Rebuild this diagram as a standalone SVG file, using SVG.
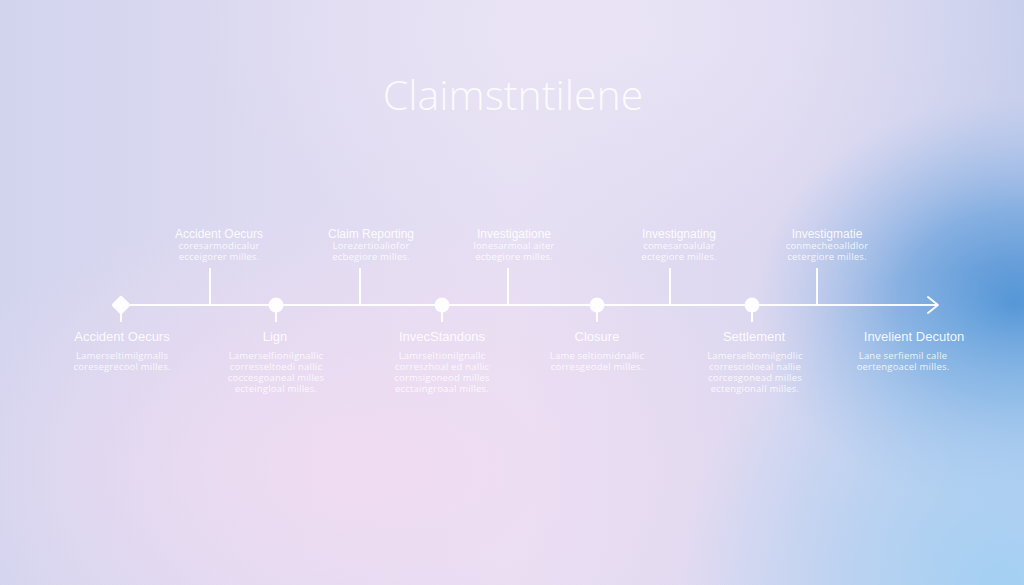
<svg xmlns="http://www.w3.org/2000/svg" width="1024" height="585" viewBox="0 0 1024 585">
  <defs>
    <linearGradient id="bg" x1="0" y1="0" x2="1" y2="0">
      <stop offset="0" stop-color="#d2d4ee"/>
      <stop offset="0.5" stop-color="#e6dff3"/>
      <stop offset="0.75" stop-color="#dcd8f0"/>
      <stop offset="1" stop-color="#c8cfec"/>
    </linearGradient>
    <radialGradient id="pink" cx="0.35" cy="0.8" r="0.45">
      <stop offset="0" stop-color="#f2dcf2" stop-opacity="0.9"/>
      <stop offset="1" stop-color="#f2dcf2" stop-opacity="0"/>
    </radialGradient>
    <radialGradient id="blue" gradientUnits="userSpaceOnUse" cx="1015" cy="305" r="260" gradientTransform="translate(1015 305) scale(1 0.8) translate(-1015 -305)">
      <stop offset="0" stop-color="#4a8fd3" stop-opacity="1"/>
      <stop offset="0.45" stop-color="#6ea4dd" stop-opacity="0.75"/>
      <stop offset="1" stop-color="#9dbde9" stop-opacity="0"/>
    </radialGradient>
    <radialGradient id="lightblue" gradientUnits="userSpaceOnUse" cx="1000" cy="585" r="320">
      <stop offset="0" stop-color="#a4d0f3" stop-opacity="1"/>
      <stop offset="1" stop-color="#a4d0f3" stop-opacity="0"/>
    </radialGradient>
    <radialGradient id="topwhite" cx="0.6" cy="0.05" r="0.4">
      <stop offset="0" stop-color="#ebe5f6" stop-opacity="0.8"/>
      <stop offset="1" stop-color="#ebe5f6" stop-opacity="0"/>
    </radialGradient>
    <style>
      .t { font-family: "Liberation Sans", Arial, sans-serif; fill: #ffffff; text-anchor: middle; }
      .h { font-size: 13px; fill-opacity: 0.92; }
      .b { font-family: "Open Sans", "Liberation Sans", sans-serif; font-size: 9.5px; letter-spacing: 0.2px; fill-opacity: 0.85; }
      .ln { stroke: #ffffff; stroke-width: 2; fill: none; stroke-opacity: 0.95; }
      .dot { fill: #ffffff; fill-opacity: 0.95; }
    </style>
  </defs>
  <rect width="1024" height="585" fill="url(#bg)"/>
  <rect width="1024" height="585" fill="url(#topwhite)"/>
  <rect width="1024" height="585" fill="url(#pink)"/>
  <rect width="1024" height="585" fill="url(#blue)"/>
  <rect width="1024" height="585" fill="url(#lightblue)"/>

  <text class="t" x="513" y="110" font-size="41" fill-opacity="0.85" style="font-family:'Open Sans','Liberation Sans',sans-serif;font-weight:300">Claimstntilene</text>

  <g id="connectors">
    <line class="ln" x1="120" y1="305" x2="938" y2="305"/>
    <polyline class="ln" points="928,297 938,305 928,313" stroke-width="3" stroke-linecap="round" stroke-linejoin="round"/>
    <line class="ln" x1="210" y1="268" x2="210" y2="305"/>
    <line class="ln" x1="360" y1="268" x2="360" y2="305"/>
    <line class="ln" x1="508" y1="268" x2="508" y2="305"/>
    <line class="ln" x1="670" y1="268" x2="670" y2="305"/>
    <line class="ln" x1="817" y1="268" x2="817" y2="305"/>
    <line class="ln" x1="121" y1="305" x2="121" y2="322"/>
    <line class="ln" x1="276" y1="305" x2="276" y2="322"/>
    <line class="ln" x1="442" y1="305" x2="442" y2="322"/>
    <line class="ln" x1="597" y1="305" x2="597" y2="322"/>
    <line class="ln" x1="752" y1="305" x2="752" y2="322"/>
  </g>

  <g id="node-start">
    <rect class="dot" x="114" y="298" width="14" height="14" transform="rotate(45 121 305)" rx="2"/>
    <text class="t h" x="122" y="341">Accident Oecurs</text>
    <text class="t b" x="122" y="359">Lamerseltimilgmalls</text>
    <text class="t b" x="122" y="370">coresegrecool milles.</text>
  </g>
  <g id="node-lign">
    <circle class="dot" cx="276" cy="305" r="7.5"/>
    <text class="t h" x="275" y="341">Lign</text>
    <text class="t b" x="276" y="359">Lamerselfionilgnallic</text>
    <text class="t b" x="276" y="370">corresseltoedi nallic</text>
    <text class="t b" x="276" y="381">coccesgoaneal milles</text>
    <text class="t b" x="276" y="392">ecteingloal milles.</text>
  </g>
  <g id="node-invec">
    <circle class="dot" cx="442" cy="305" r="7.5"/>
    <text class="t h" x="442" y="341">InvecStandons</text>
    <text class="t b" x="442" y="359">Lamrseltionilgnallc</text>
    <text class="t b" x="442" y="370">correszhoal ed nallic</text>
    <text class="t b" x="442" y="381">cormsigoneod milles</text>
    <text class="t b" x="442" y="392">ecctaingroaal milles.</text>
  </g>
  <g id="node-closure">
    <circle class="dot" cx="597" cy="305" r="7.5"/>
    <text class="t h" x="597" y="341">Closure</text>
    <text class="t b" x="597" y="359">Lame seltiomidnallic</text>
    <text class="t b" x="597" y="370">corresgeodel milles.</text>
  </g>
  <g id="node-settlement">
    <circle class="dot" cx="752" cy="305" r="7.5"/>
    <text class="t h" x="754" y="341">Settlement</text>
    <text class="t b" x="755" y="359">Lamerselbomilgndlic</text>
    <text class="t b" x="755" y="370">correscioloeal nallie</text>
    <text class="t b" x="755" y="381">corcesgonead milles</text>
    <text class="t b" x="755" y="392">ectengionall milles.</text>
  </g>
  <g id="node-end">
    <text class="t h" x="914" y="341">Invelient Decuton</text>
    <text class="t b" x="903" y="359">Lane serfiemil calle</text>
    <text class="t b" x="903" y="370">oertengoacel milles.</text>
  </g>

  <g id="top-1">
    <text class="t h" x="219" y="238" style="font-size:12px">Accident Oecurs</text>
    <text class="t b" x="219" y="249">coresarmodicalur</text>
    <text class="t b" x="219" y="260">ecceigorer milles.</text>
  </g>
  <g id="top-2">
    <text class="t h" x="371" y="238" style="font-size:12px">Claim Reporting</text>
    <text class="t b" x="371" y="249">Lorezertioaliofor</text>
    <text class="t b" x="371" y="260">ecbegiore milles.</text>
  </g>
  <g id="top-3">
    <text class="t h" x="514" y="238" style="font-size:12px">Investigatione</text>
    <text class="t b" x="514" y="249">lonesarmoal aiter</text>
    <text class="t b" x="514" y="260">ecbegiore milles.</text>
  </g>
  <g id="top-4">
    <text class="t h" x="679" y="238" style="font-size:12px">Investignating</text>
    <text class="t b" x="679" y="249">comesaroalular</text>
    <text class="t b" x="679" y="260">ectegiore milles.</text>
  </g>
  <g id="top-5">
    <text class="t h" x="827" y="238" style="font-size:12px">Investigmatie</text>
    <text class="t b" x="827" y="249">conmecheoalldlor</text>
    <text class="t b" x="827" y="260">cetergiore milles.</text>
  </g>
</svg>
